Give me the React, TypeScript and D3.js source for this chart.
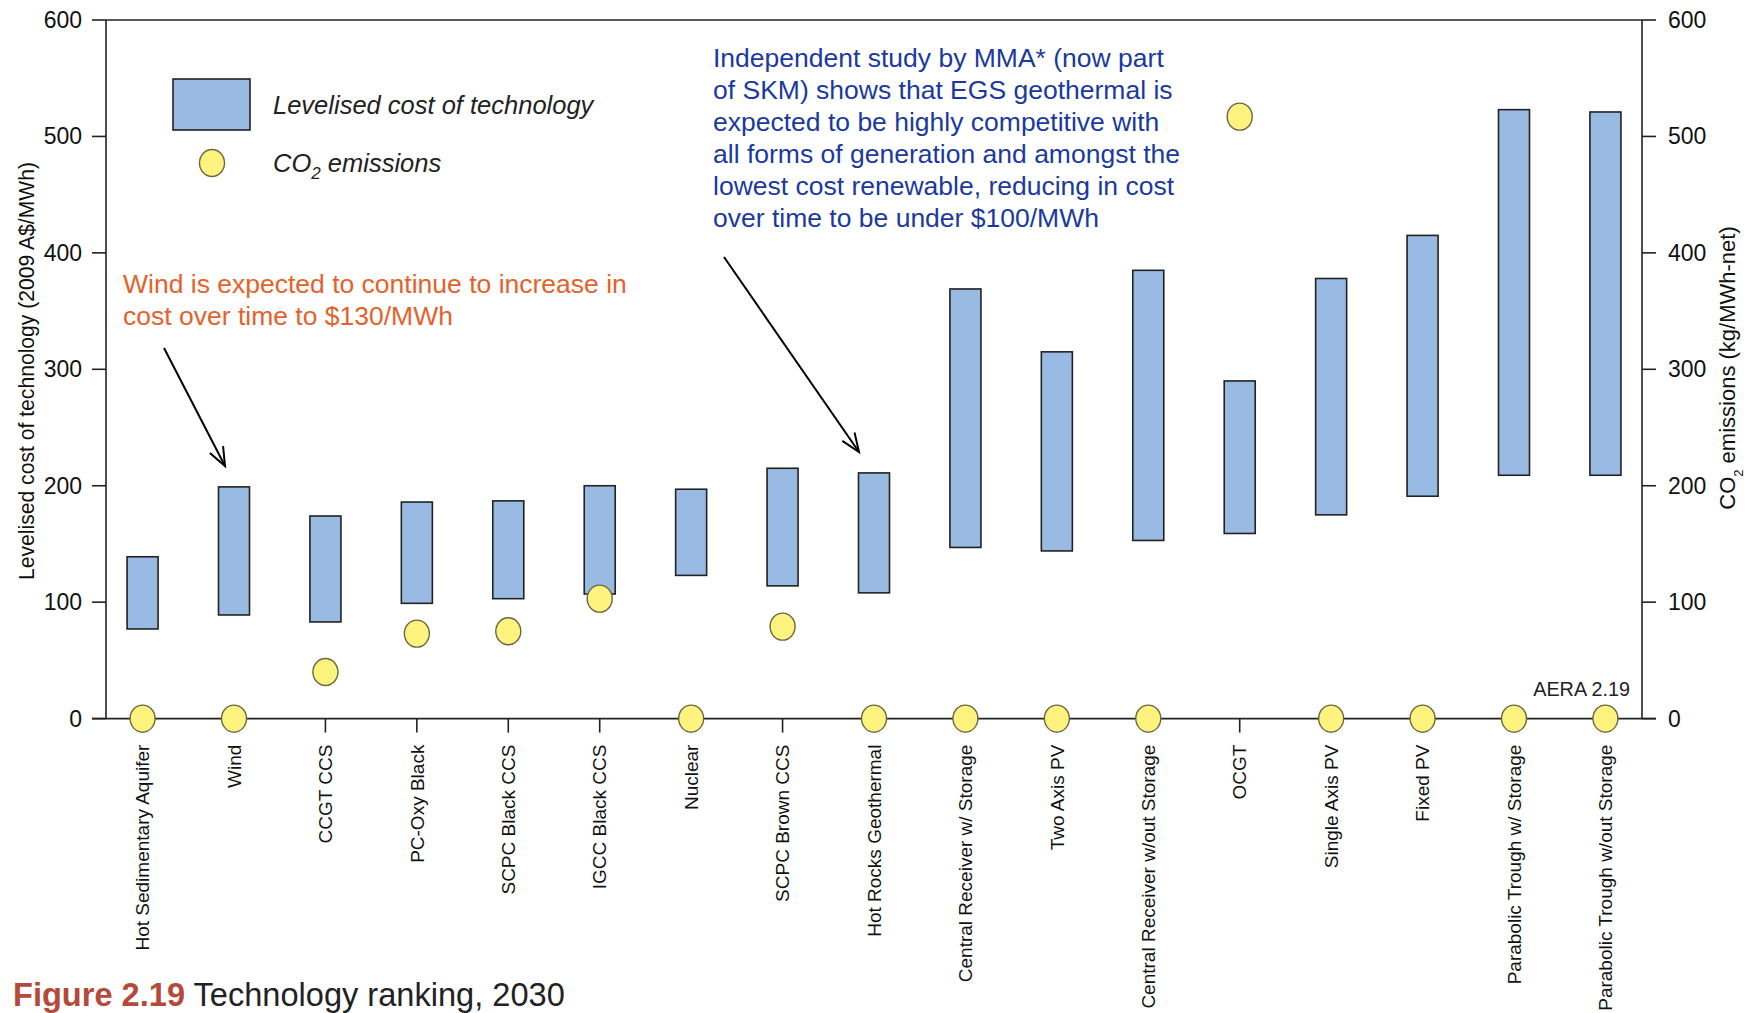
import React from "react";
import * as d3 from "d3";

// technologies, ranked by cost
const categories = [
  "Hot Sedimentary Aquifer",
  "Wind",
  "CCGT CCS",
  "PC-Oxy Black",
  "SCPC Black CCS",
  "IGCC Black CCS",
  "Nuclear",
  "SCPC Brown CCS",
  "Hot Rocks Geothermal",
  "Central Receiver w/ Storage",
  "Two Axis PV",
  "Central Receiver w/out Storage",
  "OCGT",
  "Single Axis PV",
  "Fixed PV",
  "Parabolic Trough w/ Storage",
  "Parabolic Trough w/out Storage",
];

// levelised cost range (2009 A$/MWh)
const costLow = [77, 89, 83, 99, 103, 107, 123, 114, 108, 147, 144, 153, 159, 175, 191, 209, 209];
const costHigh = [139, 199, 174, 186, 187, 200, 197, 215, 211, 369, 315, 385, 290, 378, 415, 523, 521];

// CO2 emissions (kg/MWh-net)
const co2 = [0, 0, 40, 73, 75, 103, 0, 79, 0, 0, 0, 0, 517, 0, 0, 0, 0];

const leftTicks = [0, 100, 200, 300, 400, 500, 600];
const rightTicks = [0, 100, 200, 300, 400, 500, 600];

const windNote = ["Wind is expected to continue to increase in", "cost over time to $130/MWh"];
const egsNote = [
  "Independent study by MMA* (now part",
  "of SKM) shows that EGS geothermal is",
  "expected to be highly competitive with",
  "all forms of generation and amongst the",
  "lowest cost renewable, reducing in cost",
  "over time to be under $100/MWh",
];

const W = 1747;
const H = 1013;
const left = 106;
const right = 1642;
const top = 20;
const bottom = 718.6;

const narrow = "'Liberation Sans Narrow', 'Arial Narrow', 'Liberation Sans', Arial, sans-serif";
const sans = "'Liberation Sans', Arial, sans-serif";

const BAR_FILL = "#99bbe3";
const DOT_FILL = "#fff37f";
const DOT_STROKE = "#6b6740";

function Arrow({ x1, y1, x2, y2 }: { x1: number; y1: number; x2: number; y2: number }) {
  const a = Math.atan2(y2 - y1, x2 - x1);
  const len = 20;
  const spread = 0.38;
  const h1 = [x2 - len * Math.cos(a - spread), y2 - len * Math.sin(a - spread)];
  const h2 = [x2 - len * Math.cos(a + spread), y2 - len * Math.sin(a + spread)];
  return (
    <g stroke="#000" strokeWidth={2} fill="none">
      <line x1={x1} y1={y1} x2={x2} y2={y2} />
      <polyline points={`${h1[0]},${h1[1]} ${x2},${y2} ${h2[0]},${h2[1]}`} />
    </g>
  );
}

export default function App() {
  const x = d3.scalePoint<string>().domain(categories).range([left, right]).padding(0.4);
  const y = d3.scaleLinear().domain([0, 600]).range([bottom, top]);
  const yR = d3.scaleLinear().domain([0, 600]).range([bottom, top]);
  const barW = 31;

  return (
    <div style={{ position: "absolute", left: 0, top: 0, background: "#fff" }}>
      <svg width={W} height={H} viewBox={`0 0 ${W} ${H}`}>
        <rect width={W} height={H} fill="#fff" />

        {/* frame */}
        <g stroke="#222" strokeWidth={1.6} fill="none">
          <line x1={left} y1={top} x2={right} y2={top} />
          <line x1={left} y1={top} x2={left} y2={bottom} />
          <line x1={right} y1={top} x2={right} y2={bottom} />
          <line x1={left - 14} y1={bottom} x2={right + 14} y2={bottom} />
        </g>

        {/* left axis */}
        {leftTicks.map((t) => (
          <g key={"l" + t}>
            <line x1={left - 14} x2={left} y1={y(t)} y2={y(t)} stroke="#222" strokeWidth={1.6} />
            <text x={left - 24} y={y(t)} dy="0.35em" textAnchor="end" fontFamily={narrow} fontSize={23} fill="#111">
              {t}
            </text>
          </g>
        ))}

        {/* right axis */}
        {rightTicks.map((t) => (
          <g key={"r" + t}>
            <line x1={right} x2={right + 14} y1={yR(t)} y2={yR(t)} stroke="#222" strokeWidth={1.6} />
            <text x={right + 26} y={yR(t)} dy="0.35em" textAnchor="start" fontFamily={narrow} fontSize={23} fill="#111">
              {t}
            </text>
          </g>
        ))}

        {/* axis titles */}
        <text
          transform="translate(26, 371) rotate(-90)"
          textAnchor="middle"
          dy="0.35em"
          fontFamily={narrow}
          fontSize={22}
          textLength={418}
          lengthAdjust="spacingAndGlyphs"
          fill="#111"
        >
          Levelised cost of technology (2009 A$/MWh)
        </text>
        <text
          transform="translate(1727, 368) rotate(-90)"
          textAnchor="middle"
          dy="0.35em"
          fontFamily={narrow}
          fontSize={22}
          fill="#111"
        >
          CO<tspan fontSize={13} dy={8}>2</tspan>
          <tspan dy={-8}> emissions (kg/MWh-net)</tspan>
        </text>

        {/* x ticks and labels */}
        {categories.map((c) => (
          <g key={"x" + c}>
            <line x1={x(c)} x2={x(c)} y1={bottom} y2={bottom + 14} stroke="#222" strokeWidth={1.6} />
            <text
              transform={`translate(${x(c)}, ${bottom + 26}) rotate(-90)`}
              textAnchor="end"
              dy="0.35em"
              fontFamily={sans}
              fontSize={19}
              fill="#111"
            >
              {c}
            </text>
          </g>
        ))}

        {/* cost bars */}
        {categories.map((c, i) => (
          <rect
            key={"b" + c}
            x={(x(c) as number) - barW / 2}
            y={y(costHigh[i])}
            width={barW}
            height={y(costLow[i]) - y(costHigh[i])}
            fill={BAR_FILL}
            stroke="#222"
            strokeWidth={1.6}
          />
        ))}

        {/* CO2 dots */}
        {categories.map((c, i) => (
          <ellipse
            key={"d" + c}
            cx={x(c)}
            cy={yR(co2[i])}
            rx={12.5}
            ry={13.5}
            fill={DOT_FILL}
            stroke={DOT_STROKE}
            strokeWidth={1.4}
          />
        ))}

        {/* legend */}
        <rect x={173} y={79} width={77} height={51} fill={BAR_FILL} stroke="#222" strokeWidth={1.6} />
        <text x={273} y={105} dy="0.35em" fontFamily={sans} fontStyle="italic" fontSize={25.5} fill="#222">
          Levelised cost of technology
        </text>
        <ellipse cx={212} cy={163} rx={12.5} ry={13.5} fill={DOT_FILL} stroke={DOT_STROKE} strokeWidth={1.4} />
        <text x={273} y={163} dy="0.35em" fontFamily={sans} fontStyle="italic" fontSize={25.5} fill="#222">
          CO<tspan fontSize={17} dy={7}>2</tspan>
          <tspan dy={-7}> emissions</tspan>
        </text>

        {/* annotations */}
        {windNote.map((s, i) => (
          <text key={"w" + i} x={123} y={284 + i * 32} dy="0.35em" fontFamily={narrow} fontSize={26.5} fill="#e4622b">
            {s}
          </text>
        ))}
        <Arrow x1={164} y1={348} x2={225} y2={466} />

        {egsNote.map((s, i) => (
          <text key={"e" + i} x={713} y={58 + i * 32} dy="0.35em" fontFamily={narrow} fontSize={26.5} fill="#1a3a9e">
            {s}
          </text>
        ))}
        <Arrow x1={724} y1={257} x2={859} y2={452} />

        <text x={1630} y={689} dy="0.35em" textAnchor="end" fontFamily={narrow} fontSize={19.8} fill="#222">
          AERA 2.19
        </text>

        {/* caption */}
        <text x={13} y={995} dy="0.35em" fontFamily={narrow} fontSize={32.6}>
          <tspan fill="#b5493a" fontWeight="bold">Figure 2.19</tspan>
          <tspan fill="#222"> Technology ranking, 2030</tspan>
        </text>
      </svg>
    </div>
  );
}
